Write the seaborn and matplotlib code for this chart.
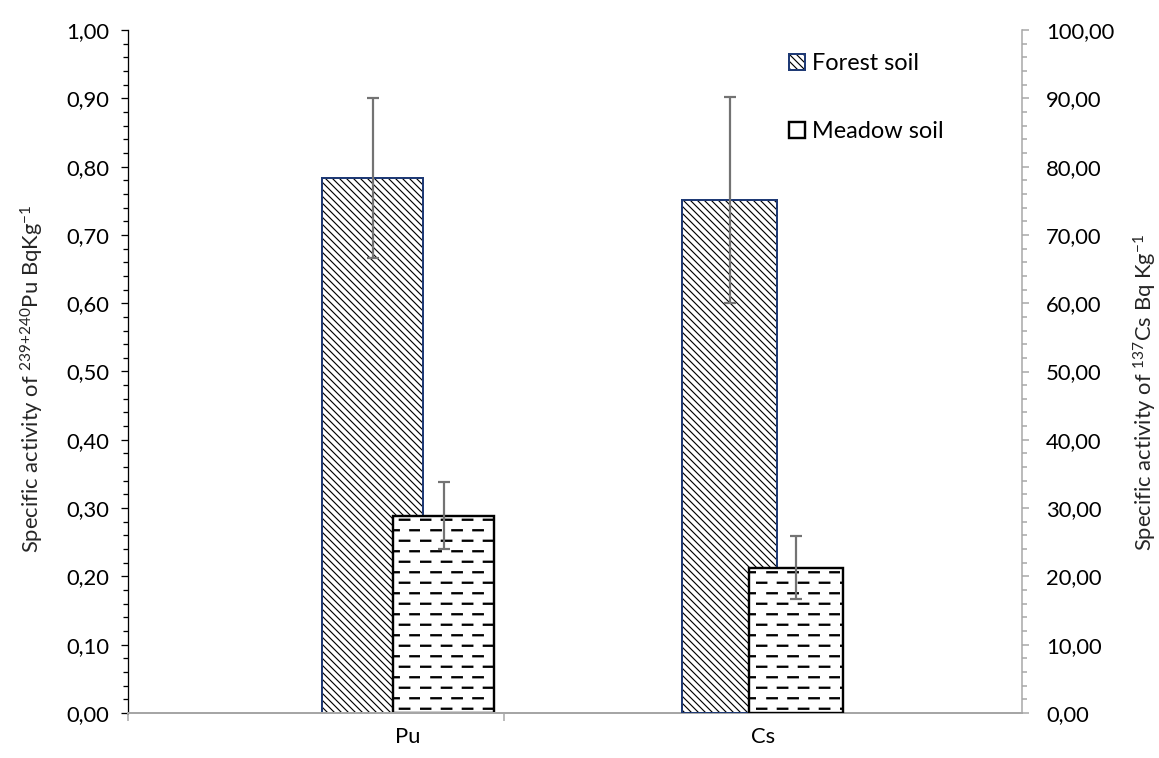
import numpy as np
import pandas as pd
import matplotlib
matplotlib.use("Agg")
import matplotlib.pyplot as plt
import matplotlib.hatch as mhatch
from matplotlib.path import Path
from matplotlib.ticker import MultipleLocator, FuncFormatter, FixedLocator
import seaborn as sns

# ---- data -------------------------------------------------------------
elements = ["Pu", "Cs"]
soils = ["Forest soil", "Meadow soil"]
pu_mean = [0.783, 0.289]      # Bq/kg, 239+240Pu (left axis)
pu_err = [0.117, 0.049]
cs_mean = [75.1, 21.3]        # Bq/kg, 137Cs (right axis)
cs_err = [15.1, 4.6]

pu_df = pd.DataFrame({"element": "Pu", "soil": soils, "value": pu_mean, "err": pu_err})
cs_df = pd.DataFrame({"element": "Cs", "soil": soils, "value": cs_mean, "err": cs_err})

# ---- geometry / style -------------------------------------------------
DPI = 84
W, H = 1159, 758


def pt(px):
    """pixels -> points at the figure dpi"""
    return px * 72.0 / DPI


FS = pt(22)
ERR_COLOR = "#737373"
AXIS_GRAY = "#A6A6A6"
NAVY = "#1F3A75"
BACKSLASH = chr(92)


class DashRowHatch(mhatch.HatchPatternBase):
    """'-' hatch drawn as staggered rows of short dashes."""
    rows = 8
    dashes = 4

    def __init__(self, hatch, density):
        on = hatch.count('-') + hatch.count('+') > 0
        self.num_vertices = self.rows * self.dashes * 2 if on else 0

    def set_vertices_and_codes(self, vertices, codes):
        period = 1.0 / self.dashes
        length = 0.45 * period
        k = 0
        for r in range(self.rows):
            y = (r + 0.5) / self.rows
            start = 0.01 if r % 2 == 0 else 0.01 + period / 2
            for d in range(self.dashes):
                x0 = start + d * period
                vertices[k] = (x0, y)
                vertices[k + 1] = (x0 + length, y)
                codes[k] = Path.MOVETO
                codes[k + 1] = Path.LINETO
                k += 2


mhatch._hatch_types = [DashRowHatch if t is mhatch.HorizontalHatch else t
                       for t in mhatch._hatch_types]

sns.set_theme(style="ticks")
plt.rcParams["font.family"] = ["Lato", "DejaVu Sans"]
plt.rcParams["mathtext.fontset"] = "custom"
plt.rcParams["mathtext.rm"] = "Lato"
plt.rcParams["mathtext.it"] = "Lato:italic"
plt.rcParams["mathtext.bf"] = "Lato:bold"
plt.rcParams["text.color"] = "black"

bar_style = {
    "Forest soil": dict(hatch=BACKSLASH * 4, edge=NAVY, lw=pt(2.0), hlw=pt(1.15)),
    "Meadow soil": dict(hatch="-", edge="black", lw=pt(2.4), hlw=pt(2.3)),
}

fig = plt.figure(figsize=(W / DPI, H / DPI), dpi=DPI)
ax = fig.add_axes([128 / W, 1 - 713 / H, (1022 - 128) / W, (713 - 30) / H])
ax2 = ax.twinx()


def soil_bars(axis, df, soil, shift, bar_w):
    sub = df[df["soil"] == soil]
    st = bar_style[soil]
    with plt.rc_context({"hatch.linewidth": st["hlw"]}):
        sns.barplot(data=sub, x="element", y="value", order=elements, color="white",
                    saturation=1, errorbar=None, width=bar_w, ax=axis)
    cont = axis.containers[-1]
    centers = []
    for bar in cont:
        bar.set_x(bar.get_x() + shift)
        bar.set_hatch(st["hatch"])
        bar.set_facecolor("white")
        bar.set_edgecolor(st["edge"])
        bar.set_linewidth(st["lw"])
        bar._hatch_color = (0, 0, 0, 1)
        if hasattr(bar, "set_hatch_linewidth"):
            bar.set_hatch_linewidth(st["hlw"])
        centers.append(bar.get_x() + bar.get_width() / 2)
    axis.errorbar(centers, sub["value"].to_numpy(), yerr=sub["err"].to_numpy(),
                  fmt="none", ecolor=ERR_COLOR, elinewidth=pt(2.2),
                  capsize=pt(6), capthick=pt(2.2), zorder=3)
    return cont


# Pu on the left axis, Cs on the right axis; meadow bars overlap forest bars
pu_forest = soil_bars(ax, pu_df, "Forest soil", -0.100, 0.285)
pu_meadow = soil_bars(ax, pu_df, "Meadow soil", +0.100, 0.285)
cs_forest = soil_bars(ax2, cs_df, "Forest soil", -0.094, 0.266)
cs_meadow = soil_bars(ax2, cs_df, "Meadow soil", +0.094, 0.266)

# ---- axes -------------------------------------------------------------
xlim = (-0.789, 1.730)
ax.set_xlim(*xlim)
ax2.set_xlim(*xlim)
ax.set_ylim(0, 1.0)
ax2.set_ylim(0, 100)

comma2 = FuncFormatter(lambda v, p: f"{v:.2f}".replace(".", ","))

ax.yaxis.set_major_locator(MultipleLocator(0.1))
ax.yaxis.set_minor_locator(MultipleLocator(0.02))
ax.yaxis.set_major_formatter(comma2)
ax2.yaxis.set_major_locator(MultipleLocator(10))
ax2.yaxis.set_minor_locator(MultipleLocator(2))
ax2.yaxis.set_major_formatter(comma2)

ax.set_xticks(range(len(elements)))
ax.set_xticklabels(elements)
ax.xaxis.set_minor_locator(FixedLocator([xlim[0], 0.270]))

ax.tick_params(axis="x", which="major", length=0, pad=pt(14), labelsize=FS, labelcolor="black")
ax.tick_params(axis="x", which="minor", length=pt(8), width=pt(1.5), color=AXIS_GRAY,
               direction="out", bottom=True)
ax.tick_params(axis="y", which="major", left=True, length=pt(7), width=pt(1.3), color="black",
               pad=pt(12), labelsize=FS, labelcolor="black")
ax.tick_params(axis="y", which="minor", left=True, length=pt(5), width=pt(1.3), color="black")
ax2.tick_params(axis="y", which="major", right=True, length=pt(7), width=pt(1.5), color=AXIS_GRAY,
                pad=pt(17), labelsize=FS, labelcolor="black")
ax2.tick_params(axis="y", which="minor", right=True, length=pt(5), width=pt(1.5), color=AXIS_GRAY)
ax2.tick_params(axis="x", which="both", bottom=False, top=False, labelbottom=False)

for s in ["top", "right"]:
    ax.spines[s].set_visible(False)
ax.spines["left"].set_color("black")
ax.spines["left"].set_linewidth(pt(1.3))
ax.spines["bottom"].set_color(AXIS_GRAY)
ax.spines["bottom"].set_linewidth(pt(2))
for s in ["top", "left", "bottom"]:
    ax2.spines[s].set_visible(False)
ax2.spines["right"].set_visible(True)
ax2.spines["right"].set_color(AXIS_GRAY)
ax2.spines["right"].set_linewidth(pt(1.5))

ax.set_xlabel("")
ax.set_ylabel(r"Specific activity of $^{239{+}240}$Pu BqKg$^{-1}$", fontsize=FS)
ax.yaxis.set_label_coords((32 - 128) / 894, 0.49)
ax.yaxis.label.set_va("center")
ax2.set_xlabel("")
ax2.set_ylabel(r"Specific activity of $^{137}$Cs Bq Kg$^{-1}$", fontsize=FS, rotation=90)
ax2.yaxis.set_label_coords((1145 - 128) / 894, 0.47)
ax2.yaxis.label.set_va("center")

# ---- legend -----------------------------------------------------------
handles = [pu_forest.patches[0], pu_meadow.patches[0]]
leg = ax2.legend(handles, soils, loc="upper left", bbox_to_anchor=(0.7394, 0.966),
                 frameon=False, fontsize=pt(23.5), handlelength=0.68, handleheight=0.64,
                 handletextpad=0.3, labelspacing=2.0, borderpad=0, borderaxespad=0)
leg.legend_handles[1].set_hatch(None)

fig.savefig("out.png", dpi=DPI)
